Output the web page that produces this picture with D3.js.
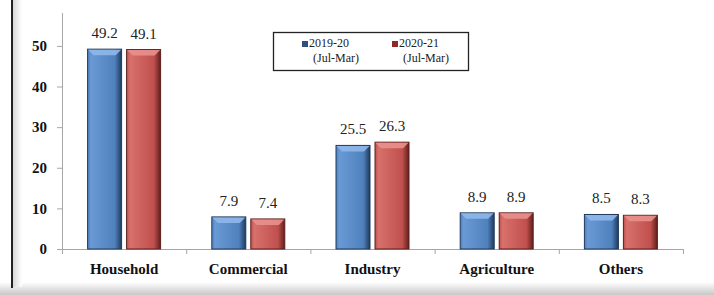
<!DOCTYPE html>
<html>
<head>
<meta charset="utf-8">
<script src="https://cdn.jsdelivr.net/npm/d3@7"></script>
<style>
  body { margin: 0; background: #fff; }
  svg { display: block; }
</style>
</head>
<body>
<svg id="chart_1"></svg>
<script>
// data
var categories = ["Household", "Commercial", "Industry", "Agriculture", "Others"];
var seriesNames = ["2019-20", "2020-21"];
var seriesNotes = ["(Jul-Mar)", "(Jul-Mar)"];
var values_2019 = [49.2, 7.9, 25.5, 8.9, 8.5];
var values_2020 = [49.1, 7.4, 26.3, 8.9, 8.3];
var yTicks = [0, 10, 20, 30, 40, 50];

var width = 714, height = 295;
var margin = {top: 13, left: 62, right: 31, bottom: 46};
var plot_w = width - margin.left - margin.right,
    plot_h = height - margin.top - margin.bottom;

var serif = "'Liberation Serif', 'Times New Roman', serif";

var svg_1 = d3.select("#chart_1")
    .attr("width", width)
    .attr("height", height);

var defs = svg_1.append("defs");

var colors = [
    {id: "blue", light: "#6a9ad6", main: "#4f81bd", dark: "#1f3a5c", top: "#8fb7ea"},
    {id: "red", light: "#d8706c", main: "#c0504d", dark: "#5e1f1d", top: "#e8918d"}
];
colors.forEach(function (c) {
    var g = defs.append("linearGradient").attr("id", "grad_" + c.id)
        .attr("x1", 0).attr("x2", 1).attr("y1", 0).attr("y2", 0);
    g.append("stop").attr("offset", "0%").attr("stop-color", c.main);
    g.append("stop").attr("offset", "10%").attr("stop-color", c.light);
    g.append("stop").attr("offset", "80%").attr("stop-color", c.main);
    g.append("stop").attr("offset", "100%").attr("stop-color", c.dark);
});

// bottom shadow band
var shade = defs.append("linearGradient").attr("id", "bottomShade")
    .attr("x1", 0).attr("x2", 0).attr("y1", 0).attr("y2", 1);
shade.append("stop").attr("offset", "0%").attr("stop-color", "#ffffff");
shade.append("stop").attr("offset", "100%").attr("stop-color", "#c8c8c8");
svg_1.append("rect")
    .attr("x", 0).attr("y", 282).attr("width", width).attr("height", 13)
    .attr("fill", "url(#bottomShade)");

var leftShade = defs.append("linearGradient").attr("id", "leftShade")
    .attr("x1", 0).attr("x2", 1).attr("y1", 0).attr("y2", 0);
leftShade.append("stop").attr("offset", "0%").attr("stop-color", "#d8d8d8");
leftShade.append("stop").attr("offset", "100%").attr("stop-color", "#ffffff");
svg_1.append("rect")
    .attr("x", 13).attr("y", 0).attr("width", 9).attr("height", 287)
    .attr("fill", "url(#leftShade)");

// left frame line
svg_1.append("line")
    .attr("x1", 12).attr("x2", 12).attr("y1", 0).attr("y2", 288)
    .attr("stroke", "#222").attr("stroke-width", 2);

// scales
var xScale = d3.scaleBand().domain(categories).range([0, plot_w]);
var yScale = d3.scaleLinear().domain([0, 58.1]).range([plot_h, 0]);
var barW = 34, barGap = 5;
var xSub = d3.scaleOrdinal().domain([0, 1])
    .range([(xScale.bandwidth() - 2 * barW - barGap) / 2, (xScale.bandwidth() + barGap) / 2]);

var mainGroup = svg_1.append("g")
    .attr("transform", "translate(" + margin.left + "," + margin.top + ")");

// y axis
var yAxis = d3.axisLeft(yScale).tickValues(yTicks).tickSize(5).tickPadding(10);
var gy = mainGroup.append("g").attr("class", "y axis").call(yAxis);
gy.select(".domain").attr("stroke", "#a6a6a6").attr("d", "M0.5," + plot_h + "V0");
gy.selectAll(".tick line").attr("stroke", "#a6a6a6");
gy.selectAll("text")
    .attr("font-family", serif)
    .attr("font-weight", "bold")
    .attr("font-size", "15px")
    .attr("fill", "#111");

// x axis
var boundaries = categories.map(function (d) { return xScale(d); }).concat([plot_w]);
mainGroup.append("line")
    .attr("x1", 0).attr("x2", plot_w)
    .attr("y1", plot_h + 0.5).attr("y2", plot_h + 0.5)
    .attr("stroke", "#a6a6a6");
mainGroup.selectAll(".xtick").data(boundaries).enter().append("line")
    .attr("class", "xtick")
    .attr("x1", function (d) { return d + 0.5; })
    .attr("x2", function (d) { return d + 0.5; })
    .attr("y1", plot_h).attr("y2", plot_h + 5)
    .attr("stroke", "#a6a6a6");
mainGroup.selectAll(".xlabel").data(categories).enter().append("text")
    .attr("class", "xlabel")
    .attr("x", function (d) { return xScale(d) + xScale.bandwidth() / 2; })
    .attr("y", plot_h + 25)
    .attr("text-anchor", "middle")
    .attr("font-family", serif)
    .attr("font-weight", "bold")
    .attr("font-size", "15px")
    .attr("fill", "#111")
    .text(function (d) { return d; });

// bars
var series = [values_2019, values_2020];
series.forEach(function (vals, si) {
    var c = colors[si];
    var g = mainGroup.append("g").attr("class", "series_" + si);
    var bars = g.selectAll(".bar").data(vals).enter().append("g")
        .attr("class", "bar")
        .attr("transform", function (d, i) {
            return "translate(" + (xScale(categories[i]) + xSub(si)) + "," + yScale(d) + ")";
        });
    bars.append("rect")
        .attr("width", barW)
        .attr("height", function (d) { return plot_h - yScale(d); })
        .attr("fill", "url(#grad_" + c.id + ")")
        .attr("stroke", c.dark)
        .attr("stroke-width", 1);
    // top bevel
    bars.append("path")
        .attr("d", "M0.5,0.5 H" + (barW - 0.5) + " L" + (barW - 6) + ",6 H6 Z")
        .attr("fill", c.top)
        .attr("opacity", 0.9);
    g.selectAll(".val").data(vals).enter().append("text")
        .attr("class", "val")
        .attr("x", function (d, i) { return xScale(categories[i]) + xSub(si) + barW / 2; })
        .attr("y", function (d) { return yScale(d) - 11; })
        .attr("text-anchor", "middle")
        .attr("font-family", serif)
        .attr("font-size", "15px")
        .attr("fill", "#222")
        .text(function (d) { return d.toFixed(1); });
});

// legend
var legend = svg_1.append("g").attr("class", "legend");
legend.append("rect")
    .attr("x", 273.5).attr("y", 32.5).attr("width", 195).attr("height", 38)
    .attr("fill", "#fff").attr("stroke", "#222").attr("stroke-width", 1.3);
var legendX = [302, 392];
seriesNames.forEach(function (name, i) {
    legend.append("rect")
        .attr("x", legendX[i]).attr("y", 41)
        .attr("width", 6).attr("height", 6)
        .attr("fill", i === 0 ? "#2f4f7f" : "#8c2a2a");
    legend.append("text")
        .attr("x", legendX[i] + 7).attr("y", 47)
        .attr("font-family", serif)
        .attr("font-size", "12px")
        .attr("fill", "#222")
        .text(name);
    legend.append("text")
        .attr("x", legendX[i] + 11).attr("y", 62)
        .attr("font-family", serif)
        .attr("font-size", "12px")
        .attr("fill", "#222")
        .text(seriesNotes[i]);
});
</script>
</body>
</html>
